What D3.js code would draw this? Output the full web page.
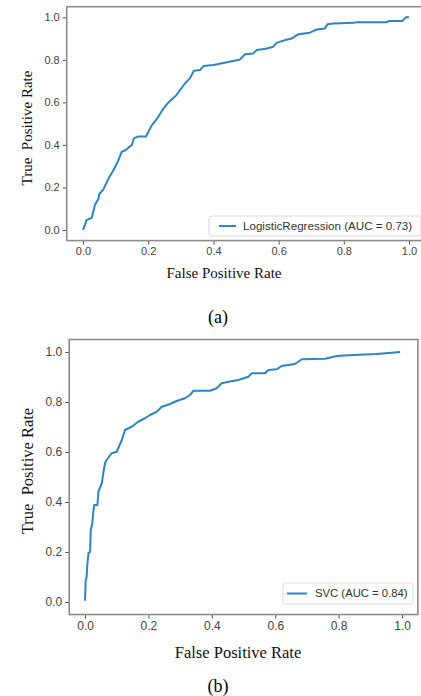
<!DOCTYPE html>
<html>
<head>
<meta charset="utf-8">
<script src="https://cdn.jsdelivr.net/npm/d3@7"></script>
<style>
  html, body { margin: 0; padding: 0; background: #fff; }
  svg { display: block; }
</style>
</head>
<body>
<svg id="chart" width="421" height="696"></svg>
<script>
// ---------- data ----------
const tickValues = [0, 0.2, 0.4, 0.6, 0.8, 1.0];

const lrFpr = [0,0.006,0.011,0.016,0.027,0.037,0.047,0.05,0.062,0.073,0.083,0.093,0.103,0.108,0.119,0.13,0.139,0.15,0.156,0.17,0.193,0.2,0.21,0.23,0.246,0.26,0.287,0.313,0.328,0.34,0.359,0.369,0.40,0.43,0.46,0.48,0.497,0.522,0.533,0.56,0.584,0.594,0.62,0.64,0.66,0.696,0.717,0.742,0.75,0.768,0.83,0.84,0.93,0.94,0.98,0.99,1.0];
const lrTpr = [0,0.024,0.047,0.05,0.058,0.12,0.145,0.169,0.19,0.225,0.255,0.28,0.31,0.326,0.368,0.375,0.386,0.40,0.431,0.44,0.44,0.46,0.49,0.53,0.57,0.596,0.635,0.69,0.713,0.749,0.752,0.771,0.776,0.785,0.795,0.80,0.826,0.83,0.846,0.852,0.862,0.88,0.893,0.90,0.92,0.928,0.943,0.948,0.968,0.971,0.974,0.977,0.977,0.983,0.983,1.0,1.0];

const svcFpr = [0,0.002,0.005,0.007,0.011,0.016,0.018,0.023,0.026,0.029,0.039,0.042,0.053,0.058,0.063,0.068,0.084,0.1,0.116,0.126,0.147,0.168,0.189,0.205,0.226,0.242,0.268,0.289,0.315,0.331,0.342,0.394,0.415,0.431,0.452,0.484,0.515,0.526,0.568,0.578,0.605,0.62,0.662,0.684,0.757,0.794,0.846,0.92,0.994];
const svcTpr = [0.005,0.088,0.10,0.148,0.197,0.2,0.288,0.315,0.361,0.388,0.388,0.441,0.475,0.52,0.555,0.568,0.595,0.601,0.648,0.688,0.701,0.721,0.735,0.748,0.761,0.781,0.792,0.804,0.815,0.828,0.845,0.845,0.855,0.875,0.881,0.888,0.901,0.915,0.915,0.928,0.931,0.944,0.952,0.971,0.973,0.984,0.988,0.992,1.0];

const legendLabels = ["LogisticRegression (AUC = 0.73)", "SVC (AUC = 0.84)"];
const captions = ["(a)", "(b)"];
const xLabel = "False Positive Rate";
const yLabel = "True  Positive Rate";

// ---------- drawing ----------
const svg = d3.select("#chart");
const lineColor = "#2f84c4";
const spineColor = "#8c8c8c";

const panels = [
  { fpr: lrFpr, tpr: lrTpr, label: legendLabels[0], caption: captions[0],
    x0: 66.7, x1: 425.3, y0: 6.7, y1: 240.6, tickFont: 11, labelFont: 15,
    legend: { x: 209, y: 216, w: 212, h: 20, lx0: 219, lx1: 236, tx: 243, font: 11.6 },
    xLabelPos: [224, 278], yLabelPos: [27, 128], capPos: [218, 323], capFont: 18 },
  { fpr: svcFpr, tpr: svcTpr, label: legendLabels[1], caption: captions[1],
    x0: 69.2, x1: 417.9, y0: 339.5, y1: 614.5, tickFont: 12, labelFont: 16.5,
    legend: { x: 283, y: 583, w: 130, h: 21, lx0: 287, lx1: 307, tx: 315, font: 11.3 },
    xLabelPos: [238, 658], yLabelPos: [27, 471], capPos: [218, 692], capFont: 18 }
];

panels.forEach(p => {
  const g = svg.append("g");
  const x = d3.scaleLinear().domain([-0.05, 1.05]).range([p.x0, p.x1]);
  const y = d3.scaleLinear().domain([-0.05, 1.05]).range([p.y1, p.y0]);

  // x axis
  const xa = g.append("g").attr("transform", `translate(0,${p.y1})`)
    .call(d3.axisBottom(x).tickValues(tickValues).tickFormat(d3.format(".1f")).tickSize(4).tickPadding(3));
  const ya = g.append("g").attr("transform", `translate(${p.x0},0)`)
    .call(d3.axisLeft(y).tickValues(tickValues).tickFormat(d3.format(".1f")).tickSize(4).tickPadding(3));
  [xa, ya].forEach(a => {
    a.select(".domain").remove();
    a.selectAll("line").attr("stroke", "#555").attr("stroke-width", 1);
    a.selectAll("text").attr("fill", "#444")
      .style("font-family", "'Liberation Sans', Arial, sans-serif")
      .style("font-size", p.tickFont + "px");
  });

  // frame
  g.append("rect").attr("x", p.x0).attr("y", p.y0)
    .attr("width", p.x1 - p.x0).attr("height", p.y1 - p.y0)
    .attr("fill", "none").attr("stroke", spineColor).attr("stroke-width", 1.6);

  // curve
  const pts = p.fpr.map((f, i) => [f, p.tpr[i]]);
  g.append("path").datum(pts)
    .attr("fill", "none").attr("stroke", lineColor).attr("stroke-width", 2)
    .attr("stroke-linejoin", "round")
    .attr("d", d3.line().x(d => x(d[0])).y(d => y(d[1])));

  // legend
  const L = p.legend;
  g.append("rect").attr("x", L.x).attr("y", L.y).attr("width", L.w).attr("height", L.h)
    .attr("rx", 3).attr("fill", "#fff").attr("fill-opacity", 0.85)
    .attr("stroke", "#d9d9d9").attr("stroke-width", 1);
  g.append("line").attr("x1", L.lx0).attr("x2", L.lx1)
    .attr("y1", L.y + L.h / 2).attr("y2", L.y + L.h / 2)
    .attr("stroke", lineColor).attr("stroke-width", 2);
  g.append("text").attr("x", L.tx).attr("y", L.y + L.h / 2).attr("dy", "0.35em")
    .attr("fill", "#333")
    .style("font-family", "'Liberation Sans', Arial, sans-serif")
    .style("font-size", L.font + "px").text(p.label);

  // axis labels
  g.append("text").attr("x", p.xLabelPos[0]).attr("y", p.xLabelPos[1])
    .attr("text-anchor", "middle").attr("fill", "#111")
    .style("font-family", "'Liberation Serif', 'Times New Roman', serif")
    .style("font-size", p.labelFont + "px").text(xLabel);
  g.append("text")
    .attr("transform", `translate(${p.yLabelPos[0]},${p.yLabelPos[1]}) rotate(-90)`)
    .attr("text-anchor", "middle").attr("dy", "0.35em").attr("fill", "#111")
    .style("font-family", "'Liberation Serif', 'Times New Roman', serif")
    .style("font-size", p.labelFont + "px").style("white-space", "pre")
    .attr("xml:space", "preserve").text(yLabel);

  // caption
  g.append("text").attr("x", p.capPos[0]).attr("y", p.capPos[1])
    .attr("text-anchor", "middle").attr("fill", "#000")
    .style("font-family", "'Liberation Serif', 'Times New Roman', serif")
    .style("font-size", p.capFont + "px").text(p.caption);
});
</script>
</body>
</html>
